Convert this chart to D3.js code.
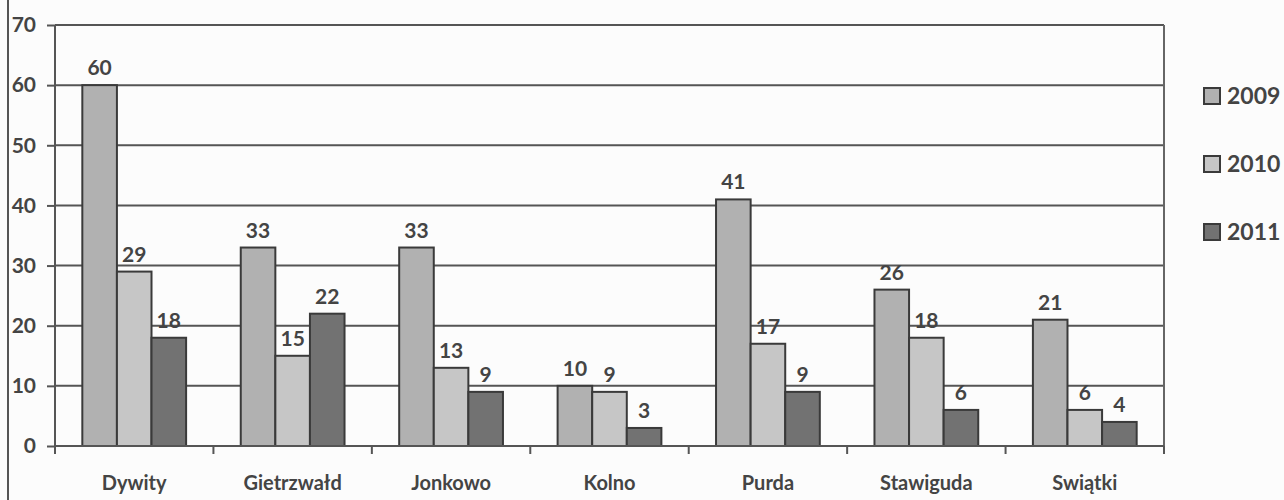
<!DOCTYPE html>
<html><head><meta charset="utf-8">
<script src="https://cdn.jsdelivr.net/npm/d3@7"></script>
<style>html,body{margin:0;padding:0;background:#fcfcfc;}svg{display:block;font-family:Lato,"Open Sans",sans-serif;font-weight:bold;}</style>
</head><body>
<svg id="c" width="1284" height="500"></svg>
<script>
const categories = ["Dywity","Gietrzwałd","Jonkowo","Kolno","Purda","Stawiguda","Swiątki"];
const seriesNames = ["2009","2010","2011"];
const values2009 = [60,33,33,10,41,26,21];
const values2010 = [29,15,13,9,17,18,6];
const values2011 = [18,22,9,3,9,6,4];
const yTicks = [0,10,20,30,40,50,60,70];

const series = [values2009, values2010, values2011];
const colors = ["#b1b1b1","#c6c6c6","#727272"];
const ink = "#444";
const svg = d3.select("#c");
const pLeft = 55, pRight = 1164, pTop = 25, pBottom = 446;

const x = d3.scaleBand().domain(categories).range([pLeft, pRight]).paddingInner(0).paddingOuter(0);
const xs = d3.scaleBand().domain(seriesNames).range([0, x.bandwidth()]).paddingOuter(0.79).paddingInner(0);
const y = d3.scaleLinear().domain([0,70]).range([pBottom, pTop]);

// outer left border
svg.append("line").attr("x1",8).attr("x2",8).attr("y1",0).attr("y2",500).attr("stroke","#555").attr("stroke-width",2);

// gridlines
svg.append("g").selectAll("line").data(yTicks.filter(d=>d>0)).join("line")
  .attr("x1",pLeft).attr("x2",pRight).attr("y1",d=>y(d)).attr("y2",d=>y(d))
  .attr("stroke","#555").attr("stroke-width",2);
// right border
svg.append("line").attr("x1",pRight).attr("x2",pRight).attr("y1",pTop).attr("y2",pBottom+7).attr("stroke","#666").attr("stroke-width",2);

// bars
const g = svg.append("g");
series.forEach((vals, si) => {
  g.append("g").selectAll("rect").data(vals).join("rect")
    .attr("x",(d,i)=>x(categories[i]) + xs(seriesNames[si]))
    .attr("y",d=>y(d))
    .attr("width",xs.bandwidth())
    .attr("height",d=>y(0)-y(d))
    .attr("fill",colors[si]).attr("stroke","#3a3a3a").attr("stroke-width",2);
  g.append("g").selectAll("text").data(vals).join("text")
    .attr("x",(d,i)=>x(categories[i]) + xs(seriesNames[si]) + xs.bandwidth()/2)
    .attr("y",d=>y(d)-10)
    .attr("text-anchor","middle").attr("font-size",21).attr("fill",ink)
    .text(d=>d);
});

// y axis
const yAxis = svg.append("g").attr("transform",`translate(${pLeft},0)`)
  .call(d3.axisLeft(y).tickValues(yTicks).tickSize(8).tickPadding(11));
yAxis.select(".domain").attr("stroke","#555").attr("stroke-width",2).attr("d",`M0,${pTop}V${pBottom}`);
yAxis.selectAll(".tick line").attr("stroke","#555").attr("stroke-width",2);
yAxis.selectAll(".tick text").attr("font-size",21).attr("fill",ink).attr("font-family","Lato").attr("font-weight","bold");

// x axis
const xAxis = svg.append("g").attr("transform",`translate(0,${pBottom})`)
  .call(d3.axisBottom(x).tickSize(0).tickPadding(30));
xAxis.select(".domain").attr("stroke","#555").attr("stroke-width",2).attr("d",`M${pLeft},0H${pRight}`);
xAxis.selectAll(".tick text").attr("font-size",20).attr("fill",ink).attr("font-family","Lato").attr("font-weight","bold");
// boundary ticks
const bounds = categories.map(c=>x(c)).concat([pRight]);
xAxis.append("g").selectAll("line").data(bounds).join("line")
  .attr("x1",d=>d).attr("x2",d=>d).attr("y1",0).attr("y2",8).attr("stroke","#555").attr("stroke-width",2);

// legend
const legY = [96,164,232];
const leg = svg.append("g");
seriesNames.forEach((s,i)=>{
  leg.append("rect").attr("x",1204).attr("y",legY[i]-8).attr("width",16).attr("height",16)
    .attr("fill",colors[i]).attr("stroke","#3a3a3a").attr("stroke-width",2);
  leg.append("text").attr("x",1227).attr("y",legY[i]).attr("dy","0.36em")
    .attr("font-size",23).attr("fill",ink).text(s);
});
</script>
</body></html>
